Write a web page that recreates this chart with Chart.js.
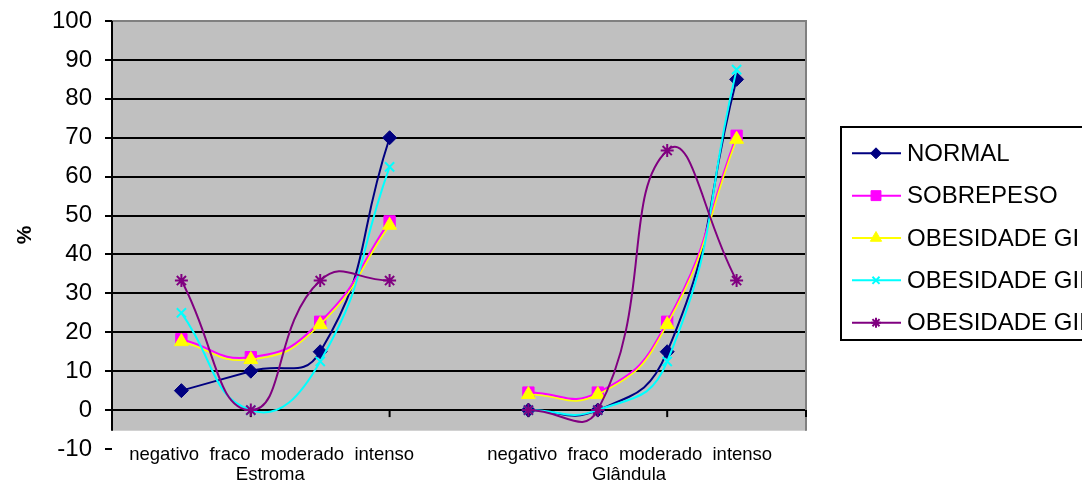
<!DOCTYPE html>
<html><head><meta charset="utf-8">
<script src="https://cdn.jsdelivr.net/npm/chart.js@4/dist/chart.umd.min.js"></script>
<style>html,body{margin:0;padding:0;background:#fff;}canvas{display:block;}</style>
</head><body>
<canvas id="c" width="1082" height="482"></canvas>
<script>
// ---- data ----
const categories = ['', 'negativo', 'fraco', 'moderado', 'intenso', '', 'negativo', 'fraco', 'moderado', 'intenso', ''];
const groupNames = ['Estroma', 'Glândula'];
const seriesNames = ['NORMAL', 'SOBREPESO', 'OBESIDADE GI', 'OBESIDADE GII', 'OBESIDADE GIII'];
const normal        = [null, 5,    10,   15,   70,   null, 0,   0,   15,   85,   null];
const sobrepeso     = [null, 18.2, 13.6, 22.7, 48.5, null, 4.5, 4.5, 22.7, 70.5, null];
const obesidadeGI   = [null, 17.6, 13.0, 22.0, 47.5, null, 4.0, 4.0, 22.0, 69.6, null];
const obesidadeGII  = [null, 25,   0,    12.5, 62.5, null, 0,   0,   12.5, 87.5, null];
const obesidadeGIII = [null, 33.3, 0,    33.3, 33.3, null, 0,   0,   66.7, 33.3, null];
const yTicks = [-10, 0, 10, 20, 30, 40, 50, 60, 70, 80, 90, 100];

// ---- styles ----
const FONT = '"Liberation Sans", Arial, sans-serif';
const styles = [
  {color: '#000080', point: 'rectRot',  r: 7,   lr: 5.5},
  {color: '#FF00FF', point: 'rect',     r: 8,   lr: 7},
  {color: '#FFFF00', point: 'triangle', r: 8,   lr: 6.5},
  {color: '#00FFFF', point: 'crossRot', r: 6.5, lr: 5},
  {color: '#800080', point: 'star',     r: 6.5, lr: 5}
];
const seriesData = [normal, sobrepeso, obesidadeGI, obesidadeGII, obesidadeGIII];
const PLOT_FLOOR = -5.3; // value where grey plot area ends

const datasets = seriesData.map((d, i) => ({
  label: seriesNames[i],
  data: d,
  borderColor: styles[i].color,
  backgroundColor: styles[i].color,
  pointStyle: styles[i].point,
  pointRadius: styles[i].r,
  pointHoverRadius: styles[i].r,
  pointBorderWidth: (styles[i].point === 'crossRot' || styles[i].point === 'star') ? 2 : 1,
  borderWidth: i === 2 ? 1.6 : 2,
  tension: 0.5,
  spanGaps: false,
  order: seriesData.length - i
}));

const plotBg = {
  id: 'plotBg',
  beforeDraw(chart) {
    const {ctx, chartArea: a, scales: {y}} = chart;
    const bottom = y.getPixelForValue(PLOT_FLOOR);
    ctx.save();
    ctx.fillStyle = '#C0C0C0';
    ctx.fillRect(a.left, a.top, a.right - a.left, bottom - a.top);
    ctx.restore();
  },
  beforeDatasetsDraw(chart) {
    const {ctx, chartArea: a, scales: {x, y}} = chart;
    const bottom = y.getPixelForValue(PLOT_FLOOR);
    ctx.save();
    ctx.strokeStyle = '#808080';
    ctx.lineWidth = 2;
    ctx.beginPath();
    ctx.moveTo(a.left, a.top);
    ctx.lineTo(a.right, a.top);
    ctx.lineTo(a.right, bottom);
    ctx.stroke();
    ctx.strokeStyle = '#000';
    ctx.beginPath();
    ctx.moveTo(a.left, a.top);
    ctx.lineTo(a.left, bottom);
    ctx.stroke();
    const y0 = y.getPixelForValue(0);
    for (let i = 0; i < categories.length; i += 2) {
      const px = x.getPixelForValue(i);
      ctx.beginPath();
      ctx.moveTo(px, y0);
      ctx.lineTo(px, y0 + 7);
      ctx.stroke();
    }
    ctx.restore();
  },
  afterDraw(chart) {
    const {ctx, chartArea: a, scales: {x}} = chart;
    ctx.save();
    ctx.fillStyle = '#000';
    ctx.textAlign = 'center';
    ctx.textBaseline = 'alphabetic';
    ctx.font = '18.5px ' + FONT;
    const groups = [[1, 4], [6, 9]];
    const line1Pos = [2.3, 7.46];
    const line2Pos = [2.28, 7.45];
    groups.forEach((g, gi) => {
      const text = categories.slice(g[0], g[1] + 1).join('  ');
      ctx.fillText(text, x.getPixelForValue(line1Pos[gi]), a.bottom + 11);
      ctx.fillText(groupNames[gi], x.getPixelForValue(line2Pos[gi]), a.bottom + 31);
    });
    const lx = 841, ly = 127, lh = 213;
    ctx.strokeStyle = '#000';
    ctx.lineWidth = 2;
    ctx.strokeRect(lx, ly, 1082 - lx + 10, lh);
    ctx.textAlign = 'left';
    ctx.textBaseline = 'middle';
    ctx.font = '24px ' + FONT;
    datasets.forEach((ds, i) => {
      const cy = 153.3 + i * 42.35;
      ctx.strokeStyle = ds.borderColor;
      ctx.lineWidth = 2;
      ctx.beginPath();
      ctx.moveTo(852, cy);
      ctx.lineTo(901, cy);
      ctx.stroke();
      ctx.fillStyle = ds.backgroundColor;
      ctx.lineWidth = ds.pointBorderWidth;
      Chart.helpers.drawPoint(ctx, {pointStyle: ds.pointStyle, radius: styles[i].lr, rotation: 0, borderWidth: ds.pointBorderWidth}, 876, cy);
      ctx.fillStyle = '#000';
      ctx.fillText(ds.label, 907, cy + 1);
    });
    ctx.restore();
  }
};

new Chart(document.getElementById('c'), {
  type: 'line',
  data: {labels: categories, datasets},
  options: {
    responsive: false,
    animation: false,
    devicePixelRatio: 1,
    layout: {padding: {left: 0, right: 276, top: 21, bottom: 33}},
    plugins: {legend: {display: false}, tooltip: {enabled: false}},
    elements: {line: {cubicInterpolationMode: 'default'}},
    scales: {
      x: {display: false, offset: false},
      y: {
        min: yTicks[0], max: yTicks[yTicks.length - 1],
        afterBuildTicks(scale) { scale.ticks = yTicks.map(v => ({value: v})); },
        afterFit(scale) { scale.width = 112; scale.paddingTop = 0; scale.paddingBottom = 0; },
        ticks: {autoSkip: false, color: '#000', font: {family: FONT, size: 24}, padding: 13},
        grid: {
          color: ctx => (ctx.tick && ctx.tick.value === -10) ? 'rgba(0,0,0,0)' : '#000',
          lineWidth: 2, tickLength: 7, tickColor: '#000', tickWidth: 2
        },
        border: {display: false},
        title: {display: true, text: '%', color: '#000', font: {family: FONT, size: 21, weight: 'bold'}, padding: {top: 13, bottom: 0}}
      }
    }
  },
  plugins: [plotBg]
});
</script>
</body></html>
